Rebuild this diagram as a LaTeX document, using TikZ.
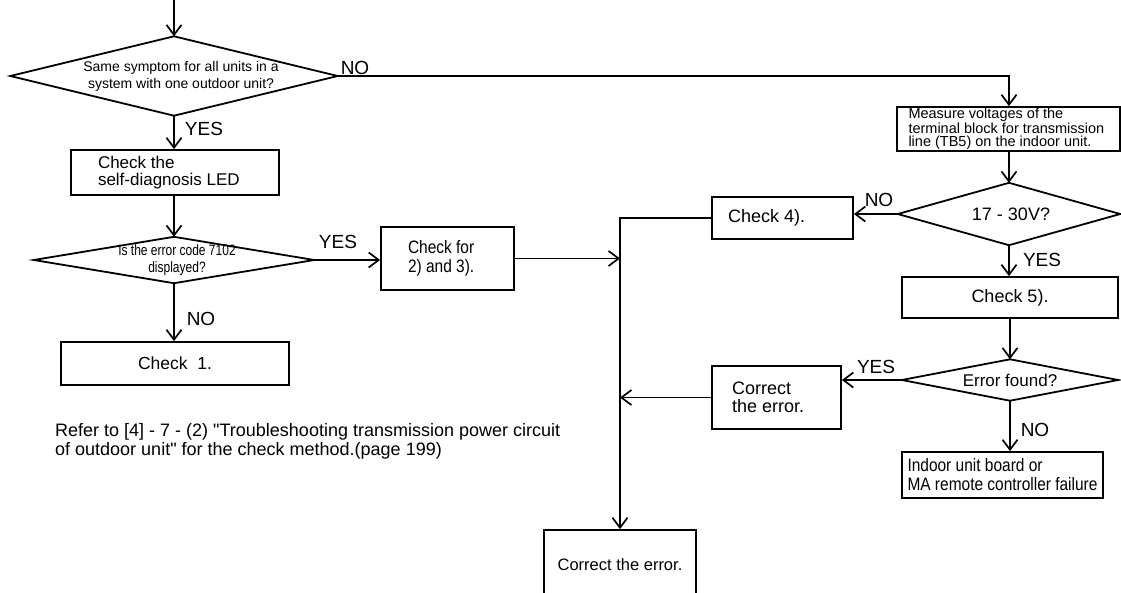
\documentclass[tikz,border=0pt]{standalone}
\usepackage{fontspec}
\setmainfont{Liberation Sans}
\newfontfamily\narrowsf[FakeStretch=0.86]{Liberation Sans}
\newfontfamily\tightsf[FakeStretch=0.80]{Liberation Sans}
\newfontfamily\notefont{Liberation Sans}
\usetikzlibrary{arrows.meta}
\newcommand\setfs[2]{\fontsize{#1}{#2}\selectfont}

\begin{document}
\begin{tikzpicture}[x=1pt,y=-1pt,
  line/.style={line width=1.7pt},
  arr/.style={line, -{Straight Barb[length=10pt,width=15pt]}},
  box/.style={draw, line width=1.8pt, rectangle, inner sep=0pt},
  decision/.style={rectangle, inner sep=0pt, align=flush center},
  outline/.style={line width=1.8pt, line join=miter},
  lbl/.style={inner sep=0pt, font=\setfs{19}{19}},
  tl/.style={text width=#1, align=flush left},
]
\useasboundingbox (0,0) rectangle (1121,592);
\fill[white] (0,0) rectangle (1121,592);
\clip (0,0) rectangle (1121,592);

% ---- left column ----
\coordinate (start) at (174,0);
\node[decision, minimum width=327pt, minimum height=79pt, font=\setfs{14}{17}] (d1) at (174,76)
  {\hspace*{14pt}Same symptom for all units in a\\\hspace*{14pt}system with one outdoor unit?};
\node[box, minimum width=208pt, minimum height=45pt, tl=154pt, font=\setfs{17}{17}] (b1) at (175,172.5)
  {Check the\\self-diagnosis LED};
\node[decision, minimum width=280pt, minimum height=46pt, font=\tightsf\setfs{15}{17}] (d2) at (174,260)
  {\hspace*{6pt}Is the error code 7102\\\hspace*{6pt}displayed?};
\node[box, minimum width=228pt, minimum height=43pt, font=\setfs{17.5}{17}] (b3) at (175,363.5)
  {Check~~1.};
\node[box, minimum width=133pt, minimum height=63pt, tl=79pt, font=\narrowsf\setfs{18}{19}] (b2) at (447.5,258.5)
  {Check for\\2) and 3).};
\node[inner sep=0pt, anchor=north west, align=flush left, font=\notefont\setfs{18}{19}] (note) at (55,423)
  {Refer to [4] - 7 - (2) "Troubleshooting transmission power circuit\\of outdoor unit" for the check method.(page 199)};

% ---- right column ----
\node[box, minimum width=223pt, minimum height=44pt, tl=200pt, font=\setfs{14.5}{13}] (b5) at (1008.5,129)
  {Measure voltages of the\\terminal block for transmission\\line (TB5) on the indoor unit.};
\node[decision, minimum width=222pt, minimum height=62pt, font=\setfs{18}{18}] (d3) at (1009,214)
  {\hspace*{4pt}17 - 30V?};
\node[box, minimum width=141pt, minimum height=42pt, tl=109pt, font=\setfs{18}{18}] (b4) at (782.5,218)
  {Check 4).};
\node[box, minimum width=216pt, minimum height=41pt, font=\setfs{18}{18}] (b6) at (1010,297.5)
  {Check 5).};
\node[decision, minimum width=216pt, minimum height=41pt, font=\setfs{17}{17}] (d4) at (1010,380)
  {Error found?};
\node[box, minimum width=129pt, minimum height=63pt, tl=89pt, font=\setfs{18}{18}] (b7) at (776.5,397.5)
  {Correct\\the error.};
\node[box, minimum width=201pt, minimum height=46pt, tl=190pt, font=\narrowsf\setfs{18}{19}] (b8) at (1002.5,475)
  {Indoor unit board or\\MA remote controller failure};
\node[box, minimum width=152pt, minimum height=70pt, font=\setfs{16.5}{17}] (b9) at (620,565)
  {Correct the error.};

% ---- decision outlines ----
\foreach \n in {d1,d2,d3,d4}
  \draw[outline] (\n.north) -- (\n.east) -- (\n.south) -- (\n.west) -- cycle;

% ---- branch labels ----
\node[lbl] (l1) at (355,68) {NO};
\node[lbl] (l2) at (204,129) {YES};
\node[lbl] (l3) at (338,242) {YES};
\node[lbl] (l4) at (201,319) {NO};
\node[lbl] (l5) at (879,200) {NO};
\node[lbl] (l6) at (1042,260) {YES};
\node[lbl] (l7) at (876,367) {YES};
\node[lbl] (l8) at (1035,430) {NO};

% ---- connectors ----
\draw[arr] (start) -- (d1.north);
\draw[arr] (d1.south) -- (d1.south |- b1.north);
\draw[arr] (d1.south |- b1.south) -- (d2.north);
\draw[arr] (d2.south) -- (d2.south |- b3.north);
\draw[arr] (d2.east) -- (d2.east -| b2.west);
\draw[arr] (b2.east) -- (b2.east -| b9.north);
\draw[arr] (b4.west) -- (b4.west -| b9.north) -- (b9.north);
\draw[arr] (b7.west) -- (b7.west -| b9.north);

\draw[arr] (d1.east) -- (d1.east -| d3.north) -- (d3.north |- b5.north);
\draw[arr] (d3.north |- b5.south) -- (d3.north);
\draw[arr] (d3.west) -- (d3.west -| b4.east);
\draw[arr] (d3.south) -- (d3.south |- b6.north);
\draw[arr] (d4.north |- b6.south) -- (d4.north);
\draw[arr] (d4.west) -- (d4.west -| b7.east);
\draw[arr] (d4.south) -- (d4.south |- b8.north);
\end{tikzpicture}
\end{document}
